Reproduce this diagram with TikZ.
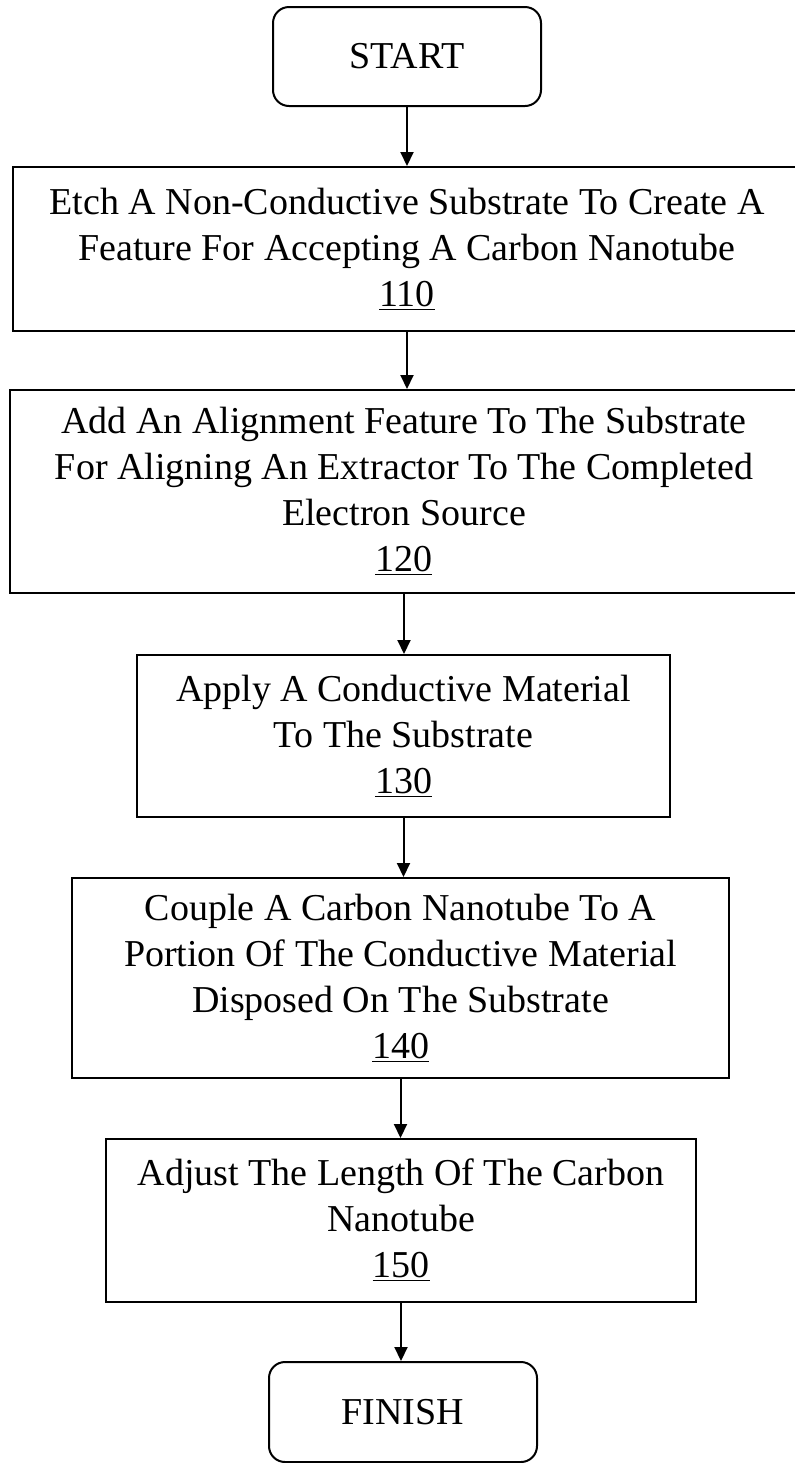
\documentclass[tikz,border=0pt]{standalone}
\usepackage{fontspec}
\setmainfont{Liberation Serif}
\usetikzlibrary{arrows.meta}

\begin{document}
\begin{tikzpicture}[x=0.5pt, y=-0.5pt,
  stepbox/.style={draw, line width=1pt, align=center, inner sep=0pt,
    font=\fontsize{19}{23}\selectfont},
  endbox/.style={stepbox, rounded corners=8pt},
  flow/.style={line width=1pt, -{Triangle[width=6.5pt,length=7pt]}}]
\useasboundingbox (0,0) rectangle (794,1463);

\node[endbox, minimum width=134pt, minimum height=49.5pt] at (407,56.5) (start){START};
\node[stepbox, minimum width=394pt, minimum height=82pt] at (407,249) (etch)
  {Etch A Non-Conductive Substrate To Create A\\Feature For Accepting A Carbon Nanotube\\\underline{110}};
\node[stepbox, minimum width=394pt, minimum height=101.5pt] at (404,491.5) (align)
  {Add An Alignment Feature To The Substrate\\For Aligning An Extractor To The Completed\\Electron Source\\\underline{120}};
\node[stepbox, minimum width=266.5pt, minimum height=81pt] at (403.5,736) (apply)
  {Apply A Conductive Material\\To The Substrate\\\underline{130}};
\node[stepbox, minimum width=328.5pt, minimum height=100pt] at (400.5,978) (couple)
  {Couple A Carbon Nanotube To A\\Portion Of The Conductive Material\\Disposed On The Substrate\\\underline{140}};
\node[stepbox, minimum width=295pt, minimum height=81.5pt] at (401,1220.5) (adjust)
  {Adjust The Length Of The Carbon\\Nanotube\\\underline{150}};
\node[endbox, minimum width=134pt, minimum height=50pt] at (403,1412) (finish){FINISH};

% arrows down the chain
\draw[flow] (start.south) -- (start.south |- etch.north);
\draw[flow] (etch.south) -- (etch.south |- align.north);
\draw[flow] (align.south) -- (align.south |- apply.north);
\draw[flow] (apply.south) -- (apply.south |- couple.north);
\draw[flow] (couple.south) -- (couple.south |- adjust.north);
\draw[flow] (adjust.south) -- (adjust.south |- finish.north);

\end{tikzpicture}
\end{document}
